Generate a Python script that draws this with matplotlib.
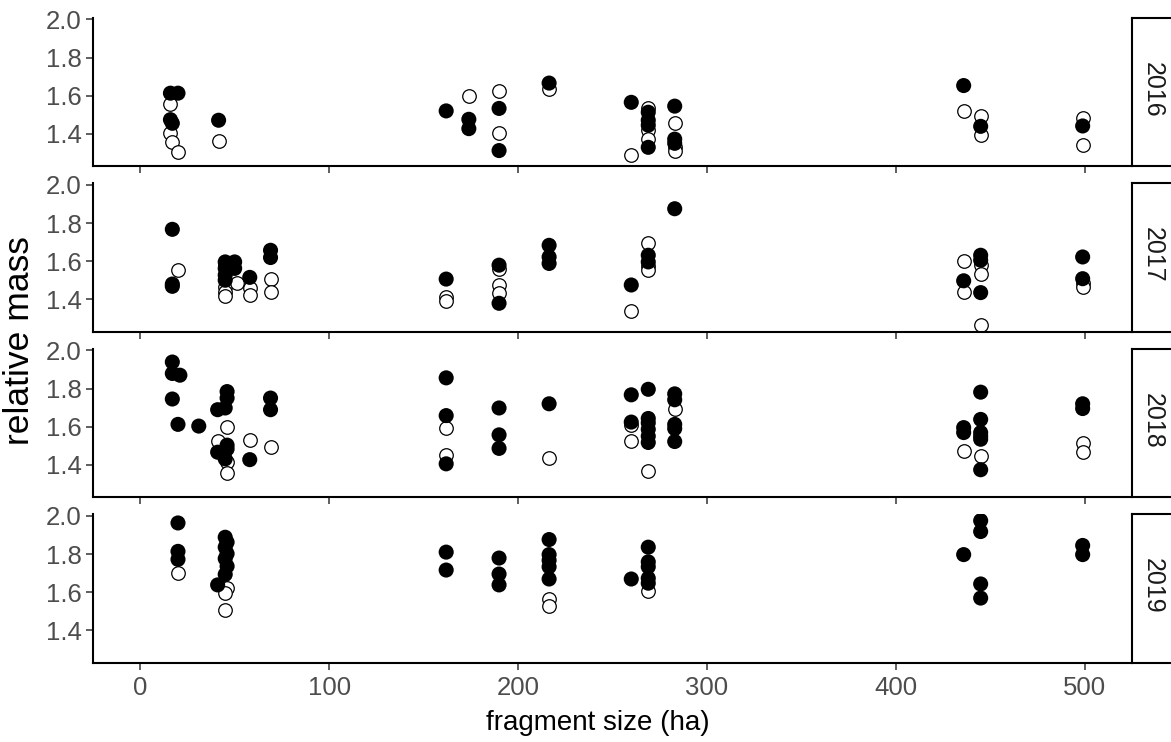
import matplotlib
matplotlib.use("Agg")
import matplotlib.pyplot as plt

plt.rcParams["font.family"] = ["Liberation Sans", "DejaVu Sans"]

years = ["2016", "2017", "2018", "2019"]

# fragment size (ha) and relative mass of birds, filled = recaptured / open = not
size_filled_2016 = [16, 20, 16, 17, 41.5, 162, 174, 174, 190, 190, 216.5, 260, 269, 269, 269, 269,
                    283, 283, 283, 436, 445, 499]
mass_filled_2016 = [1.613, 1.613, 1.474, 1.455, 1.471, 1.52, 1.476, 1.427, 1.533, 1.312, 1.666, 1.565,
                    1.513, 1.471, 1.445, 1.329, 1.545, 1.372, 1.35, 1.653, 1.439, 1.441]
size_open_2016 = [16, 16, 17, 20, 41.5, 174, 190, 190, 216.5, 260, 269, 269, 269, 283, 283, 283,
                  436, 445, 445, 499, 499]
mass_open_2016 = [1.554, 1.404, 1.356, 1.307, 1.36, 1.598, 1.625, 1.404, 1.634, 1.289, 1.533, 1.422,
                  1.374, 1.457, 1.333, 1.312, 1.519, 1.492, 1.395, 1.485, 1.342]

size_filled_2017 = [17, 17, 17, 45, 45, 45, 45, 50, 50, 58, 69, 69, 162, 190, 190, 216.5, 216.5,
                    216.5, 260, 269, 269, 283, 436, 445, 445, 445, 499, 499]
mass_filled_2017 = [1.767, 1.48, 1.468, 1.596, 1.562, 1.527, 1.50, 1.596, 1.562, 1.515, 1.657, 1.619,
                    1.506, 1.579, 1.379, 1.683, 1.622, 1.588, 1.475, 1.631, 1.596, 1.875, 1.497,
                    1.631, 1.605, 1.435, 1.622, 1.508]
size_open_2017 = [20, 45, 45, 45, 45, 51, 58, 58, 69, 69, 162, 162, 190, 190, 190, 260, 269, 269,
                  269, 436, 436, 445, 445, 445, 499, 499]
mass_open_2017 = [1.553, 1.58, 1.466, 1.44, 1.417, 1.484, 1.457, 1.423, 1.504, 1.44, 1.41, 1.393,
                  1.557, 1.475, 1.431, 1.341, 1.697, 1.575, 1.553, 1.602, 1.44, 1.58, 1.532, 1.266,
                  1.484, 1.463]

size_filled_2018 = [17, 17, 21, 17, 20, 31, 41, 46, 46, 45, 46, 46, 41, 45, 58, 69, 69, 162, 162,
                    162, 190, 190, 190, 216.5, 260, 260, 269, 269, 269, 269, 269, 269, 283, 283,
                    283, 283, 283, 436, 436, 445, 445, 445, 445, 445, 445, 499, 499]
mass_filled_2018 = [1.939, 1.879, 1.87, 1.745, 1.612, 1.603, 1.689, 1.784, 1.75, 1.698, 1.503, 1.483,
                    1.466, 1.431, 1.427, 1.75, 1.689, 1.856, 1.658, 1.405, 1.698, 1.557, 1.486, 1.72,
                    1.767, 1.624, 1.796, 1.643, 1.62, 1.586, 1.55, 1.517, 1.772, 1.741, 1.612, 1.59,
                    1.522, 1.595, 1.569, 1.781, 1.638, 1.569, 1.55, 1.534, 1.374, 1.72, 1.695]
size_open_2018 = [46, 41, 46, 46, 58, 69, 162, 162, 216.5, 260, 260, 269, 283, 436, 445, 499, 499]
mass_open_2018 = [1.60, 1.526, 1.414, 1.357, 1.531, 1.495, 1.595, 1.452, 1.436, 1.607, 1.526, 1.367,
                  1.693, 1.471, 1.445, 1.514, 1.469]

size_filled_2019 = [20, 20, 20, 45, 46, 45, 46, 45, 46, 45, 41, 162, 162, 190, 190, 190, 216.5,
                    216.5, 216.5, 216.5, 216.5, 260, 269, 269, 269, 269, 269, 436, 445, 445, 445,
                    445, 499, 499]
mass_filled_2019 = [1.963, 1.814, 1.772, 1.888, 1.862, 1.836, 1.802, 1.776, 1.736, 1.693, 1.638,
                    1.81, 1.716, 1.779, 1.695, 1.638, 1.876, 1.797, 1.767, 1.733, 1.669, 1.669,
                    1.836, 1.759, 1.733, 1.673, 1.647, 1.797, 1.975, 1.918, 1.643, 1.569, 1.845,
                    1.797]
size_open_2019 = [20, 46, 45, 45, 216.5, 216.5, 269]
mass_open_2019 = [1.698, 1.62, 1.595, 1.508, 1.564, 1.529, 1.607]

filled_sizes = [size_filled_2016, size_filled_2017, size_filled_2018, size_filled_2019]
filled_mass = [mass_filled_2016, mass_filled_2017, mass_filled_2018, mass_filled_2019]
open_sizes = [size_open_2016, size_open_2017, size_open_2018, size_open_2019]
open_mass = [mass_open_2016, mass_open_2017, mass_open_2018, mass_open_2019]

x_ticks = [0, 100, 200, 300, 400, 500]
y_ticks = [1.4, 1.6, 1.8, 2.0]

W, H = 1171, 742
fig = plt.figure(figsize=(W / 100, H / 100), dpi=100)

left_px, right_px = 93, 1131
panel_h = 148.5
panel_tops = [17.5, 183.0, 348.5, 514.0]
strip_left = 1132
strip_w = 60

tick_grey = "#4D4D4D"

for i, yr in enumerate(years):
    top = panel_tops[i]
    ax = fig.add_axes([left_px / W, 1 - (top + panel_h) / H,
                       (right_px - left_px) / W, panel_h / H])
    ax.scatter(open_sizes[i], open_mass[i], s=95, facecolors="white",
               edgecolors="black", linewidths=0.9, zorder=2)
    ax.scatter(filled_sizes[i], filled_mass[i], s=118, facecolors="black",
               edgecolors="none", zorder=3)
    ax.set_xlim(-25, 524.6)
    ax.set_ylim(1.231, 2.01)
    ax.set_xticks(x_ticks)
    ax.set_yticks(y_ticks)
    ax.set_yticklabels([f"{v:.1f}" for v in y_ticks])
    for side in ("top", "right"):
        ax.spines[side].set_visible(False)
    for side in ("left", "bottom"):
        ax.spines[side].set_linewidth(1.5)
        ax.spines[side].set_color("black")
    ax.tick_params(axis="both", length=5, width=1.1, color="#333333",
                   labelsize=18.5, labelcolor=tick_grey, pad=3)
    ax.tick_params(axis="x", pad=5)
    if i < 3:
        ax.tick_params(axis="x", labelbottom=False)

    # facet strip on the right
    sax = fig.add_axes([strip_left / W, 1 - (top + panel_h) / H, strip_w / W, panel_h / H])
    sax.set_xticks([])
    sax.set_yticks([])
    for sp in sax.spines.values():
        sp.set_linewidth(1.5)
        sp.set_color("black")
    fig.text(1153 / W, 1 - (top + panel_h / 2 - 2) / H, yr, rotation=270,
             ha="center", va="center", fontsize=18, color="#1A1A1A")

fig.text(598 / W, 1 - 723 / H, "fragment size (ha)",
         ha="center", va="center", fontsize=20)
fig.text(20 / W, 1 - 341 / H, "relative mass", rotation=90,
         ha="center", va="center", fontsize=25.5)

fig.savefig("out.png", dpi=100)
